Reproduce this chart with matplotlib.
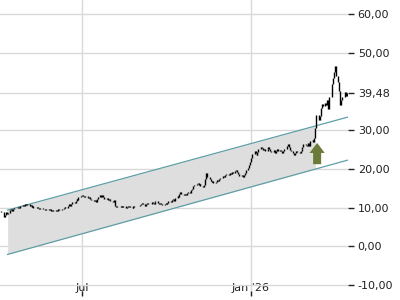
import matplotlib

matplotlib.use("Agg")

import matplotlib.pyplot as plt
import matplotlib.dates as mdates
from matplotlib.patches import FancyArrow
from matplotlib.ticker import FixedLocator, FuncFormatter
import numpy as np
import pandas as pd


# daily closes, one list per month (business days)
START_DATE = "2025-04-03"
CLOSE_2025_04 = [9.0, 8.8, 7.6, 8.0, 8.9, 8.3, 8.7, 9.3, 9.5, 9.2, 9.7, 9.9, 9.8, 10.2, 10.0, 10.4, 10.3, 10.6, 10.5, 10.8]
CLOSE_2025_05 = [10.7, 10.9, 10.5, 10.6, 10.2, 10.4, 10.0, 9.9, 10.1, 9.8, 9.7, 9.9, 9.6, 9.5, 9.7, 9.4, 9.5, 9.3, 9.5, 9.2, 9.4, 9.1]
CLOSE_2025_06 = [9.0, 9.3, 9.2, 9.5, 9.4, 9.7, 9.6, 9.9, 10.2, 10.0, 10.5, 10.8, 10.4, 11.0, 11.4, 11.1, 11.8, 12.2, 11.9, 12.6, 13.0]
CLOSE_2025_07 = [13.3, 13.0, 12.8, 13.1, 12.6, 12.4, 12.7, 12.2, 12.0, 11.7, 11.9, 11.5, 12.2, 12.8, 13.2, 12.7, 13.3, 12.6, 12.2, 12.5, 11.9, 12.3, 12.0]
CLOSE_2025_08 = [11.8, 11.5, 11.9, 10.4, 10.1, 10.5, 10.3, 10.2, 10.4, 10.1, 10.3, 10.0, 10.2, 10.4, 10.1, 10.3, 10.0, 10.2, 10.5, 10.3, 10.4]
CLOSE_2025_09 = [10.3, 10.6, 10.9, 11.2, 10.8, 10.5, 10.9, 11.3, 10.9, 11.0, 11.5, 11.2, 11.0, 11.4, 11.7, 11.2, 10.9, 11.3, 11.0, 10.6, 10.8, 11.1]
CLOSE_2025_10 = [10.9, 11.3, 11.6, 11.4, 11.9, 12.2, 11.8, 12.5, 12.9, 12.6, 13.4, 13.9, 13.5, 13.2, 13.6, 13.3, 13.8, 14.1, 13.7, 14.6, 14.9, 15.5, 15.9]
CLOSE_2025_11 = [16.0, 16.4, 15.9, 16.2, 15.6, 15.3, 15.7, 17.4, 18.8, 17.9, 17.3, 16.9, 16.5, 16.8, 16.3, 16.6, 17.0, 16.8, 17.3, 17.6]
CLOSE_2025_12 = [17.7, 18.1, 17.8, 18.4, 18.7, 18.3, 18.9, 18.6, 19.1, 18.8, 19.4, 19.7, 19.3, 18.6, 18.2, 18.5, 17.9, 18.4, 19.0, 19.6, 20.1, 21.0, 21.8]
CLOSE_2026_01 = [22.9, 23.8, 24.6, 24.1, 23.5, 24.3, 25.1, 25.7, 25.3, 24.8, 25.0, 24.5, 25.2, 25.6, 25.1, 24.7, 24.4, 24.9, 24.2, 24.6, 25.0, 24.7]
CLOSE_2026_02 = [24.9, 24.5, 24.2, 24.6, 25.1, 25.9, 26.5, 25.7, 24.9, 24.5, 24.0, 23.7, 24.2, 24.6, 24.3, 24.0, 24.5, 25.0, 25.6, 26.4]
CLOSE_2026_03 = [26.2, 25.8, 26.6, 26.0, 27.1, 27.5, 27.0, 28.0, 30.6, 33.8, 32.5, 33.6, 35.8, 36.8, 36.2, 37.0, 36.4, 37.8, 35.5, 38.6, 42.0, 43.5]
CLOSE_2026_04 = [45.0, 46.5, 44.0, 42.5, 40.0, 36.5, 37.8, 38.6, 39.8, 38.9, 39.48]

LAST_PRICE = 39.48
Y_TICKS = [-10, 0, 10, 20, 30, 50, 60]
X_TICK_DATES = ["2025-07-01", "2026-01-01"]
X_TICK_LABELS = ["Jul", "Jan '26"]

# trend channel
CHANNEL_DATES = ["2025-04-11", "2026-04-17"]
CHANNEL_UPPER = [9.35, 33.4]
CHANNEL_LOWER = [-2.1, 22.3]
CHANNEL_FILL_END = "2026-03-12"

# breakout signal
SIGNAL_DATE = "2026-03-14"
SIGNAL_BASE = 21.2
SIGNAL_TIP = 26.7

GRID_COLOR = "#d9d9d9"
CHANNEL_COLOR = "#5e9fa6"
FILL_COLOR = "#dedede"
ARROW_COLOR = "#6b7b3a"


def _num(date):
    return mdates.date2num(pd.Timestamp(date))


closes = np.array(
    CLOSE_2025_04 + CLOSE_2025_05 + CLOSE_2025_06 + CLOSE_2025_07 + CLOSE_2025_08
    + CLOSE_2025_09 + CLOSE_2025_10 + CLOSE_2025_11 + CLOSE_2025_12 + CLOSE_2026_01
    + CLOSE_2026_02 + CLOSE_2026_03 + CLOSE_2026_04
)
dates = mdates.date2num(pd.bdate_range(START_DATE, periods=len(closes)))
opens = np.concatenate([closes[:1], closes[:-1]])

fig = plt.figure(figsize=(4.0, 3.0), dpi=100)
ax = fig.add_axes([0.0, 0.0133, 0.87, 0.9867])
ax.set_xlim(_num("2025-04-02") + 0.7, _num("2026-04-16") + 0.6)
ax.set_ylim(-12.84, 63.6)

for side in ax.spines.values():
    side.set_visible(False)

# channel
ch_x = np.array([_num(d) for d in CHANNEL_DATES])
fill_x = np.linspace(ch_x[0], _num(CHANNEL_FILL_END), 50)
ax.fill_between(
    fill_x,
    np.interp(fill_x, ch_x, CHANNEL_LOWER),
    np.interp(fill_x, ch_x, CHANNEL_UPPER),
    color=FILL_COLOR,
    linewidth=0.0,
    zorder=1,
)
ax.plot(ch_x, CHANNEL_UPPER, color=CHANNEL_COLOR, linewidth=0.9, zorder=2)
ax.plot(ch_x, CHANNEL_LOWER, color=CHANNEL_COLOR, linewidth=0.9, zorder=2)

# price bars
ax.vlines(dates, np.minimum(opens, closes), np.maximum(opens, closes), color="black", linewidth=1.0, zorder=3)

# signal arrow
arrow_x = _num(SIGNAL_DATE)
ax.add_patch(
    FancyArrow(
        arrow_x,
        SIGNAL_BASE,
        0.0,
        SIGNAL_TIP - SIGNAL_BASE,
        width=8.7,
        head_width=16.5,
        head_length=2.6,
        length_includes_head=True,
        color=ARROW_COLOR,
        linewidth=0.0,
        zorder=4,
    )
)

# axes
ax.yaxis.tick_right()
ax.yaxis.set_major_locator(FixedLocator(Y_TICKS + [LAST_PRICE]))
ax.yaxis.set_major_formatter(FuncFormatter(lambda v, _: f"{v:.2f}".replace(".", ",")))
ax.tick_params(axis="y", direction="out", length=4, width=1.0, pad=3, labelsize=8, colors="#222222")
ax.xaxis.set_major_locator(FixedLocator([_num(d) for d in X_TICK_DATES]))
ax.set_xticklabels(X_TICK_LABELS)
ax.tick_params(axis="x", direction="in", length=3.5, width=1.0, pad=-9.4, labelsize=8, colors="#222222")
ax.grid(True, color=GRID_COLOR, linewidth=1.0, zorder=0)
ax.set_axisbelow(True)

fig.savefig("out.png", dpi=100)
plt.close(fig)
